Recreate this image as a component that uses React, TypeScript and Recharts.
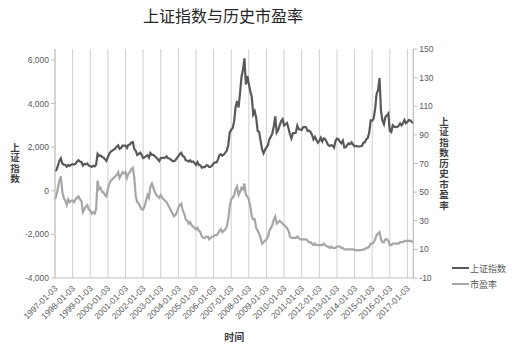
import React from 'react'
import { LineChart, Line, XAxis, YAxis, CartesianGrid, Legend } from 'recharts'

const FONT = '"Liberation Sans", "Noto Sans CJK SC", sans-serif'
const CJK = '"Noto Sans CJK SC", sans-serif'

const startYear = 1997

// 上证指数, one value per month from 1997-01 to 2017-05
const indexValues = [
  890, 960, 1150, 1370, 1490, 1250, 1200, 1190, 1100, 1180, 1140, 1190, // 1997
  1220, 1200, 1240, 1340, 1400, 1340, 1310, 1160, 1230, 1210, 1250, 1150, // 1998
  1130, 1090, 1150, 1120, 1200, 1690, 1600, 1620, 1560, 1520, 1450, 1370, // 1999
  1540, 1710, 1800, 1840, 1890, 1930, 2020, 2080, 1920, 1960, 2070, 2070, // 2000
  2070, 1960, 2110, 2120, 2210, 2230, 1920, 1830, 1640, 1690, 1750, 1650, // 2001
  1500, 1530, 1590, 1630, 1520, 1730, 1650, 1650, 1580, 1510, 1440, 1360, // 2002
  1500, 1510, 1510, 1520, 1580, 1490, 1480, 1420, 1370, 1350, 1400, 1500, // 2003
  1590, 1680, 1740, 1600, 1560, 1400, 1390, 1340, 1400, 1320, 1340, 1270, // 2004
  1190, 1310, 1180, 1160, 1060, 1080, 1080, 1160, 1160, 1090, 1100, 1160, // 2005
  1260, 1300, 1300, 1440, 1640, 1670, 1610, 1660, 1750, 1840, 2100, 2680, // 2006
  2790, 2880, 3180, 3840, 4110, 3820, 4470, 5220, 5550, 6070, 4870, 5260, // 2007
  4900, 4550, 4300, 3500, 3650, 3350, 2750, 2700, 2300, 1900, 1720, 1880, // 2008
  1990, 2080, 2370, 2480, 2630, 2960, 3410, 2670, 2780, 3000, 3200, 3280, // 2009
  2990, 3050, 3110, 2870, 2590, 2400, 2640, 2640, 2660, 2980, 2820, 2810, // 2010
  2790, 2910, 2930, 2910, 2740, 2760, 2700, 2570, 2360, 2470, 2330, 2200, // 2011
  2290, 2430, 2260, 2400, 2370, 2230, 2100, 2050, 2090, 2070, 1980, 2270, // 2012
  2390, 2370, 2240, 2180, 2300, 1980, 1990, 2100, 2170, 2140, 2220, 2120, // 2013
  2030, 2060, 2030, 2030, 2040, 2050, 2200, 2220, 2360, 2420, 2680, 3230, // 2014
  3210, 3310, 3750, 4440, 4610, 5170, 3660, 3210, 3050, 3380, 3450, 3540, // 2015
  2740, 2690, 3000, 2940, 2920, 2930, 2980, 3090, 3000, 3100, 3250, 3100, // 2016
  3160, 3240, 3220, 3150, 3110 // 2017
]

// 市盈率, same months
const peValues = [
  45, 48, 53, 58, 61, 50, 46, 44, 41, 45, 43, 44, // 1997
  44, 43, 45, 46, 47, 45, 44, 36, 38, 40, 41, 38, // 1998
  37, 35, 36, 35, 38, 58, 52, 53, 50, 50, 48, 47, // 1999
  52, 56, 58, 59, 60, 61, 62, 64, 60, 62, 64, 63, // 2000
  64, 60, 63, 64, 66, 67, 60, 47, 43, 42, 40, 38, // 2001
  38, 40, 44, 48, 46, 54, 56, 53, 50, 48, 47, 46, // 2002
  48, 46, 45, 44, 43, 41, 39, 37, 35, 33, 34, 36, // 2003
  39, 41, 42, 37, 35, 31, 30, 28, 29, 27, 26, 25, // 2004
  24, 25, 23, 22, 19, 18, 18, 19, 19, 17, 18, 19, // 2005
  19, 20, 20, 21, 23, 24, 22, 23, 24, 26, 31, 40, // 2006
  45, 46, 48, 52, 54, 48, 50, 53, 52, 56, 48, 47, // 2007
  45, 40, 33, 31, 31, 25, 23, 21, 18, 14, 15, 16, // 2008
  17, 19, 23, 25, 27, 31, 33, 28, 29, 30, 29, 28, // 2009
  27, 26, 25, 23, 19, 18, 18, 18, 18, 19, 18, 17, // 2010
  17, 17, 17, 17, 16, 15, 15, 14, 13, 14, 13, 13, // 2011
  13, 13, 13, 14, 13, 12, 12, 11, 12, 11, 11, 11, // 2012
  12, 12, 12, 11, 11, 10, 10, 10, 10, 10, 10, 10, // 2013
  9.5, 9.5, 9.3, 9.5, 9.5, 9.6, 10, 10, 11, 11, 12, 14, // 2014
  14, 15, 17, 20, 21, 22, 17, 15, 15, 17, 17, 16, // 2015
  13, 13, 14, 14, 14, 14, 14, 15, 15, 15, 16, 16, // 2016
  16, 16, 16, 15.5, 15 // 2017
]

const leftTicks = [-4000, -2000, 0, 2000, 4000, 6000]
const rightTicks = [-10, 10, 30, 50, 70, 90, 110, 130, 150]

const monthLabel = (i: number) => {
  const y = startYear + Math.floor(i / 12)
  const m = String((i % 12) + 1).padStart(2, '0')
  return `${y}-${m}-03`
}

const data = indexValues.map((v, i) => ({
  date: monthLabel(i),
  index: v,
  pe: peValues[i]
}))

const DateTick = (props: any) => {
  const { x, y, payload } = props
  return (
    <g transform={`translate(${x + 3},${y + 3})`}>
      <text
        x={0}
        y={0}
        textAnchor="end"
        transform="rotate(-45)"
        fontSize={8.5}
        fontFamily={FONT}
        fill="#595959"
      >
        {payload.value}
      </text>
    </g>
  )
}

// stacked (vertical) axis title, one text element
const VerticalLabel = ({ viewBox, text, dx }: any) => {
  const cx = viewBox.x + dx
  const mid = viewBox.y + viewBox.height / 2
  return (
    <text
      x={cx}
      y={mid}
      textAnchor="middle"
      style={{ writingMode: 'vertical-rl', letterSpacing: 1 }}
      fontSize={9.5}
      fontWeight="bold"
      fontFamily={CJK}
      fill="#404040"
    >
      {text}
    </text>
  )
}

const renderLegend = (props: any) => (
  <div style={{ fontFamily: CJK, fontSize: 9, color: '#595959' }}>
    {props.payload.map((p: any) => (
      <div key={p.value} style={{ display: 'flex', alignItems: 'center', height: 16 }}>
        <span
          style={{ display: 'inline-block', width: 17, height: 2, background: p.color, marginRight: 1 }}
        />
        {p.value}
      </div>
    ))}
  </div>
)

export default function App() {
  return (
    <div style={{ position: 'absolute', left: 0, top: 0, width: 512, height: 353, background: '#fff' }}>
      <LineChart
        width={512}
        height={353}
        data={data}
        margin={{ top: 49, right: 68.7, bottom: 25, left: 0 }}
      >
        <text
          x={223}
          y={22}
          textAnchor="middle"
          fontSize={16}
          fontFamily={CJK}
          fill="#262626"
        >
          上证指数与历史市盈率
        </text>
        <CartesianGrid horizontal={false} stroke="#d0d0d0" />
        <XAxis
          dataKey="date"
          interval={11}
          height={50}
          tickLine={false}
          stroke="#bfbfbf"
          tick={<DateTick />}
          label={{
            content: (p: any) => (
              <text
                x={p.viewBox.x + p.viewBox.width / 2}
                y={p.viewBox.y + 63}
                textAnchor="middle"
                fontSize={10}
                fontWeight="bold"
                fontFamily={CJK}
                fill="#404040"
              >
                时间
              </text>
            )
          }}
        />
        <YAxis
          yAxisId="left"
          width={55}
          domain={[-4000, 6500]}
          ticks={leftTicks}
          tickSize={4}
          stroke="#bfbfbf"
          tick={{ fontSize: 8.5, fill: '#595959', fontFamily: FONT }}
          tickFormatter={(v: number) => v.toLocaleString('en-US')}
          label={{ content: (p: any) => <VerticalLabel viewBox={p.viewBox} text="上证指数" dx={15} /> }}
        />
        <YAxis
          yAxisId="right"
          orientation="right"
          width={30}
          domain={[-10, 150]}
          ticks={rightTicks}
          tickSize={4}
          stroke="#bfbfbf"
          tick={{ fontSize: 8.5, fill: '#595959', fontFamily: FONT }}
          label={{ content: (p: any) => <VerticalLabel viewBox={p.viewBox} text="上证指数历史市盈率" dx={30.7} /> }}
        />
        <Legend
          layout="vertical"
          align="center"
          verticalAlign="middle"
          content={renderLegend}
          wrapperStyle={{ left: 452, top: 260, width: 60 }}
        />
        <Line
          yAxisId="left"
          dataKey="index"
          name="上证指数"
          stroke="#595959"
          strokeWidth={2.2}
          dot={false}
          isAnimationActive={false}
        />
        <Line
          yAxisId="right"
          dataKey="pe"
          name="市盈率"
          stroke="#a6a6a6"
          strokeWidth={2.2}
          dot={false}
          isAnimationActive={false}
        />
      </LineChart>
    </div>
  )
}
